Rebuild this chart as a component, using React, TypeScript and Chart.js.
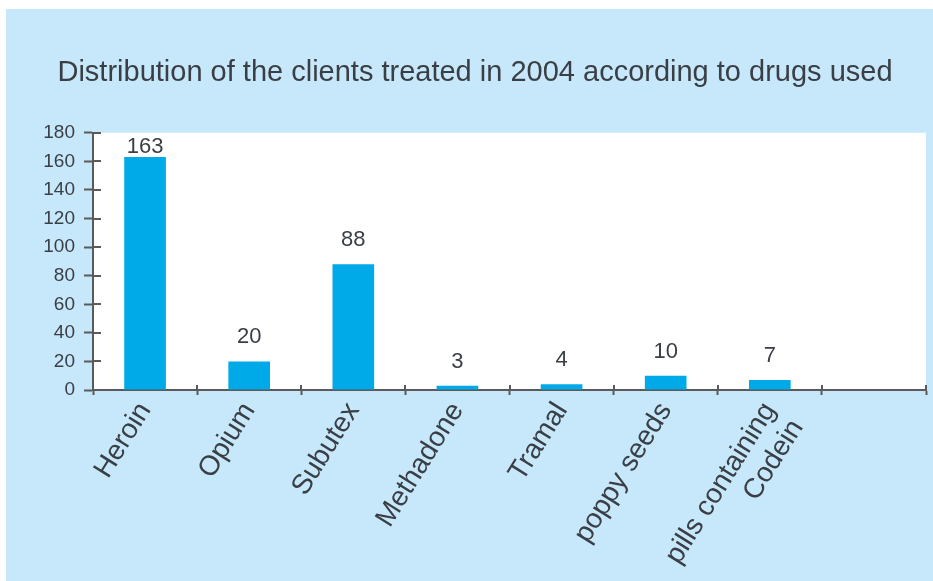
import React, { useEffect, useRef } from "react";
import { Chart, registerables } from "chart.js";

Chart.register(...registerables);

const TITLE = "Distribution of the clients treated in 2004 according to drugs used";
const categories: (string | string[])[] = [
  "Heroin",
  "Opium",
  "Subutex",
  "Methadone",
  "Tramal",
  "poppy seeds",
  ["pills containing", "Codein"],
  "",
];
const clients: (number | null)[] = [163, 20, 88, 3, 4, 10, 7, null];
const yMin = 0;
const yMax = 180;
const yStep = 20;

const FONT = "'Liberation Sans', Arial, sans-serif";
const TEXT = "#3a3f45";
const AXIS = "#5a5a5a";
const BAR = "#00a9e8";
const PANEL = "#c7e8fb";

const plotBg = {
  id: "plotBg",
  beforeDraw(chart: any) {
    const { ctx, chartArea: a } = chart;
    ctx.save();
    ctx.fillStyle = "#ffffff";
    ctx.fillRect(a.left, a.top, a.right - a.left, a.bottom - a.top);
    ctx.restore();
  },
};

const crossTicks = {
  id: "crossTicks",
  afterDatasetsDraw(chart: any) {
    const { ctx, chartArea: a, scales } = chart;
    const y = scales.y;
    const x = scales.x;
    ctx.save();
    ctx.strokeStyle = AXIS;
    ctx.lineWidth = 2;
    y.ticks.forEach((t: any) => {
      const py = Math.round(y.getPixelForValue(t.value));
      ctx.beginPath();
      ctx.moveTo(a.left, py);
      ctx.lineTo(a.left + 8, py);
      ctx.stroke();
    });
    for (let i = 0; i <= categories.length; i++) {
      const px = Math.round(x.getPixelForValue(i - 0.5));
      ctx.beginPath();
      ctx.moveTo(px, a.bottom);
      ctx.lineTo(px, a.bottom - 5);
      ctx.stroke();
    }
    ctx.fillStyle = TEXT;
    ctx.font = `22px ${FONT}`;
    ctx.textAlign = "center";
    ctx.textBaseline = "alphabetic";
    const meta = chart.getDatasetMeta(0);
    meta.data.forEach((bar: any, i: number) => {
      const v = clients[i];
      if (v == null) return;
      let base = bar.y - 18;
      if (base < a.top + 20) base = a.top + 20;
      ctx.fillText(String(v), bar.x, base);
    });
    ctx.restore();
  },
};

export default function App() {
  const ref = useRef<HTMLCanvasElement | null>(null);
  useEffect(() => {
    if (!ref.current) return;
    const chart = new Chart(ref.current, {
      type: "bar",
      data: {
        labels: categories,
        datasets: [
          {
            data: clients,
            backgroundColor: BAR,
            borderWidth: 0,
            categoryPercentage: 1,
            barPercentage: 0.4,
          },
        ],
      },
      options: {
        responsive: false,
        animation: false,
        devicePixelRatio: 1,
        layout: { padding: { left: 18, right: 7, top: 0, bottom: 0 } },
        plugins: {
          legend: { display: false },
          tooltip: { enabled: false },
          title: {
            display: true,
            text: TITLE,
            color: TEXT,
            font: { family: FONT, size: 29, weight: "normal" },
            padding: { top: 47, bottom: 42 },
          },
        },
        scales: {
          x: {
            offset: true,
            grid: {
              offset: true,
              drawOnChartArea: false,
              tickLength: 5,
              tickWidth: 2,
              color: AXIS,
            },
            border: { color: AXIS, width: 2 },
            ticks: {
              color: TEXT,
              font: { family: FONT, size: 28, lineHeight: 1.15 },
              minRotation: 58,
              maxRotation: 58,
              autoSkip: false,
              padding: 2,
            },
            afterFit(scale: any) {
              scale.height = 191;
            },
          },
          y: {
            min: yMin,
            max: yMax,
            grid: {
              drawOnChartArea: false,
              tickLength: 9,
              tickWidth: 2,
              color: AXIS,
            },
            border: { color: AXIS, width: 2 },
            ticks: {
              stepSize: yStep,
              color: TEXT,
              font: { family: FONT, size: 19 },
              padding: 9,
            },
            afterFit(scale: any) {
              scale.width = 69;
            },
          },
        },
      },
      plugins: [plotBg, crossTicks],
    });
    return () => chart.destroy();
  }, []);

  return (
    <div
      style={{
        position: "absolute",
        left: 0,
        top: 0,
        width: 933,
        height: 581,
        background: "#ffffff",
        overflow: "hidden",
      }}
    >
      <canvas
        ref={ref}
        width={927}
        height={572}
        style={{ position: "absolute", left: 6, top: 9, width: 927, height: 572, background: PANEL }}
      />
    </div>
  );
}
